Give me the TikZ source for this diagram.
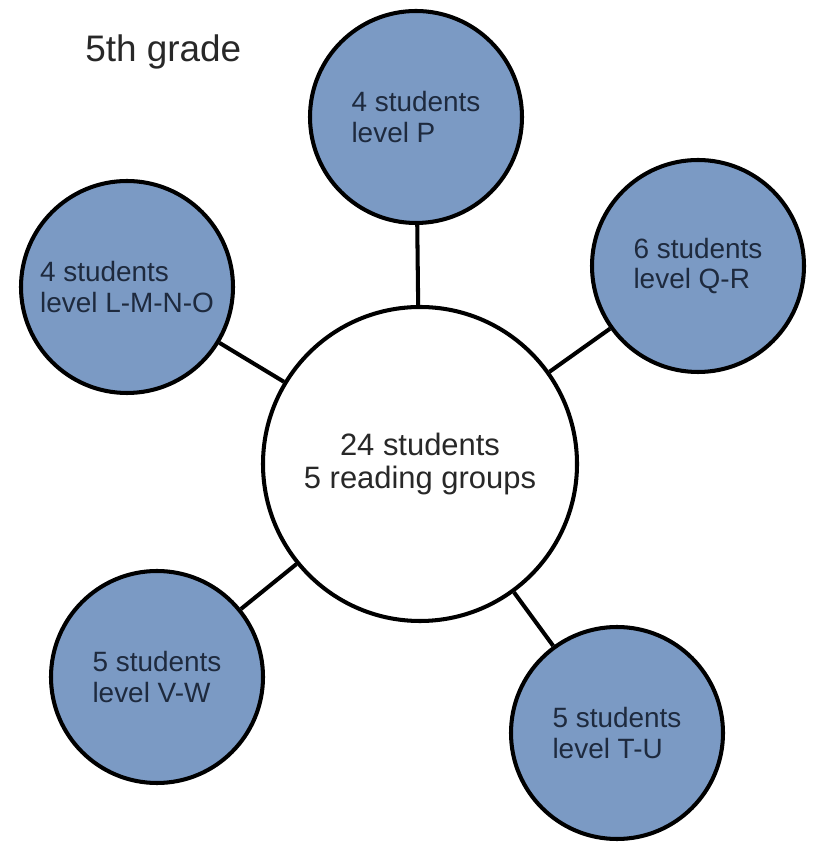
\documentclass[tikz,border=0pt]{standalone}
\usepackage{fontspec}
\setmainfont{Liberation Sans}
\usepackage{xcolor}
\usetikzlibrary{
	positioning
}

\definecolor{groupblue}{RGB}{123,154,196}
\definecolor{groupink}{RGB}{30,42,62}
\definecolor{mainink}{RGB}{40,40,40}

\tikzstyle{group} = [circle, draw=black, line width=2.3pt, fill=groupblue, minimum size=4.24cm, inner sep=0pt, align=left, text=groupink, font={\fontsize{15.9}{17.1}\selectfont}]
\tikzstyle{link} = [line width=2.3pt, draw=black]

\begin{document}
\begin{tikzpicture}
		
		\useasboundingbox (0,0) rectangle (16.38,16.86);
		
		% ====== Titre ======
		\node[anchor=base west, inner sep=0pt, text=mainink, font={\fontsize{21}{24}\selectfont}]
		(titre) at (1.70,15.62) {5th grade};
		
		% ====== Cercle central ======
		\node[circle, draw=black, line width=2.3pt, fill=white, minimum size=6.28cm, inner sep=0pt,
		align=center, text=mainink, font={\fontsize{17.6}{18.8}\selectfont}]
		(classe) at (8.40,7.58) {24 students\\5 reading groups};
		
		% ====== Groupes de lecture ======
		\node[group] (gP) at (8.32,14.52) {4 students\\level P};
		\node[group] (gQR) at (13.96,11.54) {6 students\\level Q-R};
		\node[group] (gLO) at (2.54,11.12) {4 students\\level L-M-N-O};
		\node[group] (gVW) at (3.14,3.32) {5 students\\level V-W};
		\node[group] (gTU) at (12.34,2.20) {5 students\\level T-U};
		
		% ====== Liaisons ======
		\draw[link] (classe) -- (gP);
		\draw[link] (classe) -- (gQR);
		\draw[link] (classe) -- (gLO);
		\draw[link] (classe) -- (gVW);
		\draw[link] (classe) -- (gTU);
		
\end{tikzpicture}
\end{document}
